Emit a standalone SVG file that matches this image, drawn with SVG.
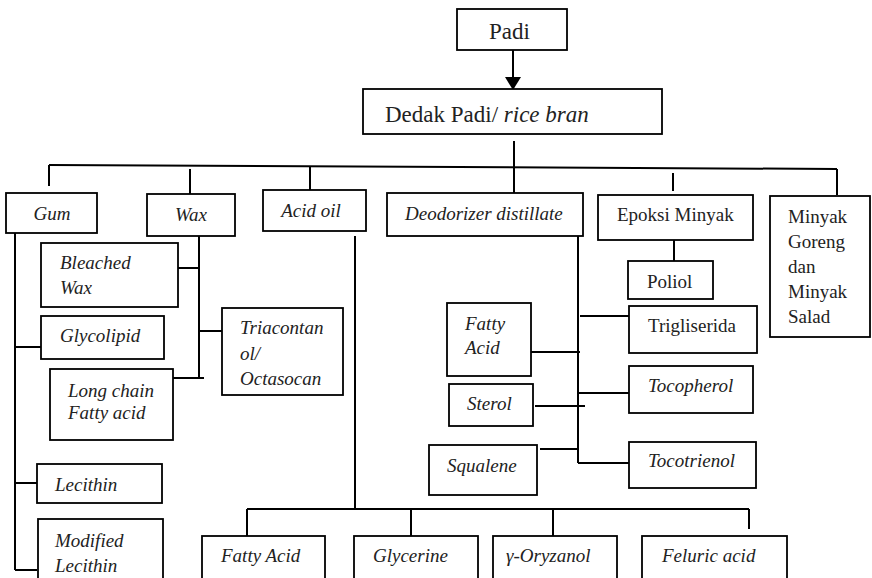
<svg xmlns="http://www.w3.org/2000/svg" width="872" height="578" viewBox="0 0 872 578">
<style>
.box{fill:#fff;stroke:#000;stroke-width:1.8}
.t{font-family:"Liberation Serif","Times New Roman",serif;font-size:19px;fill:#222}
.i{font-style:italic}
.big{font-size:23px}
.c{stroke:#000;stroke-width:2;fill:none}
</style>
<rect width="872" height="578" fill="#fff"/>
<g id="connectors">
<line class="c" x1="513" y1="50" x2="513" y2="79"/>
<polygon points="505,77 521,77 513,90" fill="#000"/>
<line class="c" x1="514" y1="141" x2="514" y2="193"/>
<line class="c" x1="49" y1="165" x2="837" y2="169"/>
<line class="c" x1="49" y1="165" x2="49" y2="186"/>
<line class="c" x1="190" y1="169" x2="190" y2="194"/>
<line class="c" x1="310" y1="166" x2="310" y2="191"/>
<line class="c" x1="673" y1="173" x2="673" y2="191"/>
<line class="c" x1="837" y1="169" x2="837" y2="195"/>
<line class="c" x1="15" y1="233" x2="15" y2="570"/>
<line class="c" x1="15" y1="347" x2="41" y2="347"/>
<line class="c" x1="15" y1="483" x2="37" y2="483"/>
<line class="c" x1="15" y1="570" x2="37" y2="570"/>
<line class="c" x1="199" y1="236" x2="199" y2="379"/>
<line class="c" x1="178" y1="268" x2="199" y2="268"/>
<line class="c" x1="199" y1="331" x2="222" y2="331"/>
<line class="c" x1="173" y1="378" x2="204" y2="378"/>
<line class="c" x1="355" y1="236" x2="355" y2="509"/>
<line class="c" x1="247" y1="509" x2="749" y2="509"/>
<line class="c" x1="247" y1="509" x2="247" y2="536"/>
<line class="c" x1="411" y1="509" x2="411" y2="536"/>
<line class="c" x1="553" y1="509" x2="553" y2="536"/>
<line class="c" x1="749" y1="509" x2="749" y2="529"/>
<line class="c" x1="578" y1="236" x2="578" y2="463"/>
<line class="c" x1="578" y1="463" x2="629" y2="463"/>
<line class="c" x1="580" y1="316" x2="629" y2="316"/>
<line class="c" x1="531" y1="352" x2="580" y2="352"/>
<line class="c" x1="578" y1="393" x2="629" y2="393"/>
<line class="c" x1="535" y1="406" x2="585" y2="406"/>
<line class="c" x1="540" y1="449" x2="578" y2="449"/>
<line class="c" x1="674" y1="240" x2="674" y2="262"/>
</g>
<g id="padi"><rect class="box" x="457" y="9" width="110" height="41"/><text class="t big" x="489" y="39">Padi</text></g>
<g id="dedak"><rect class="box" x="363" y="89" width="299" height="45"/><text class="t big" x="385" y="122">Dedak Padi/ <tspan class="i">rice bran</tspan></text></g>
<g id="gum"><rect class="box" x="6" y="193" width="91" height="40"/><text class="t i" x="52" y="220" text-anchor="middle">Gum</text></g>
<g id="wax"><rect class="box" x="147" y="194" width="88" height="42"/><text class="t i" x="191" y="221" text-anchor="middle">Wax</text></g>
<g id="acidoil"><rect class="box" x="263" y="190" width="103" height="41"/><text class="t i" x="311" y="217" text-anchor="middle">Acid oil</text></g>
<g id="deodorizer"><rect class="box" x="387" y="193" width="196" height="43"/><text class="t i" x="405" y="220">Deodorizer distillate</text></g>
<g id="epoksi"><rect class="box" x="598" y="195" width="155" height="45"/><text class="t" x="617" y="221">Epoksi Minyak</text></g>
<g id="minyak"><rect class="box" x="770" y="196" width="100" height="141"/>
<text class="t" x="788" y="223">Minyak</text><text class="t" x="788" y="248">Goreng</text><text class="t" x="788" y="273">dan</text><text class="t" x="788" y="298">Minyak</text><text class="t" x="788" y="323">Salad</text></g>
<g id="bleached"><rect class="box" x="41" y="243" width="137" height="64"/><text class="t i" x="60" y="269">Bleached</text><text class="t i" x="60" y="294">Wax</text></g>
<g id="glycolipid"><rect class="box" x="41" y="316" width="123" height="43"/><text class="t i" x="60" y="342">Glycolipid</text></g>
<g id="triacontanol"><rect class="box" x="222" y="308" width="121" height="87"/><text class="t i" x="240" y="334">Triacontan</text><text class="t i" x="240" y="360">ol/</text><text class="t i" x="240" y="385">Octasocan</text></g>
<g id="longchain"><rect class="box" x="50" y="369" width="123" height="71"/><text class="t i" x="68" y="397">Long chain</text><text class="t i" x="68" y="419">Fatty acid</text></g>
<g id="lecithin"><rect class="box" x="37" y="464" width="125" height="39"/><text class="t i" x="55" y="491">Lecithin</text></g>
<g id="modlecithin"><rect class="box" x="38" y="519" width="125" height="70"/><text class="t i" x="55" y="547">Modified</text><text class="t i" x="55" y="572">Lecithin</text></g>
<g id="poliol"><rect class="box" x="628" y="261" width="85" height="38"/><text class="t" x="647" y="288">Poliol</text></g>
<g id="trigliserida"><rect class="box" x="629" y="306" width="128" height="47"/><text class="t" x="648" y="332">Trigliserida</text></g>
<g id="fattyacid2"><rect class="box" x="447" y="303" width="84" height="73"/><text class="t i" x="465" y="330">Fatty</text><text class="t i" x="465" y="354">Acid</text></g>
<g id="tocopherol"><rect class="box" x="629" y="366" width="124" height="47"/><text class="t i" x="648" y="392">Tocopherol</text></g>
<g id="sterol"><rect class="box" x="449" y="384" width="84" height="42"/><text class="t i" x="467" y="410">Sterol</text></g>
<g id="squalene"><rect class="box" x="429" y="445" width="108" height="50"/><text class="t i" x="447" y="472">Squalene</text></g>
<g id="tocotrienol"><rect class="box" x="629" y="442" width="127" height="46"/><text class="t i" x="648" y="467">Tocotrienol</text></g>
<g id="fattyacid"><rect class="box" x="202" y="536" width="123" height="60"/><text class="t i" x="221" y="562">Fatty Acid</text></g>
<g id="glycerine"><rect class="box" x="354" y="536" width="124" height="60"/><text class="t i" x="373" y="562">Glycerine</text></g>
<g id="oryzanol"><rect class="box" x="493" y="536" width="124" height="60"/><text class="t i" x="506" y="562">γ-Oryzanol</text></g>
<g id="feluric"><rect class="box" x="642" y="536" width="145" height="60"/><text class="t i" x="662" y="562">Feluric acid</text></g>
</svg>
